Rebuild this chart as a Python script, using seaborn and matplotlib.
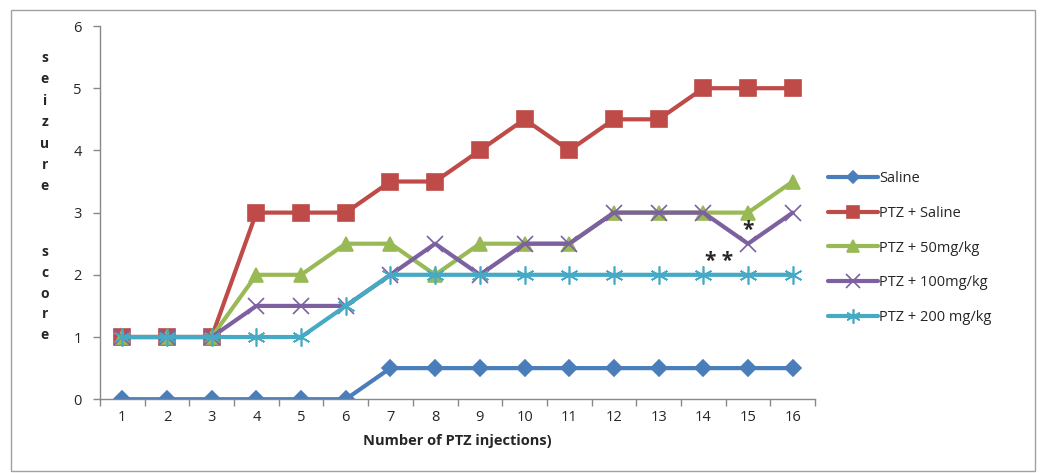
import matplotlib
matplotlib.use("Agg")
import matplotlib.pyplot as plt
import seaborn as sns
import pandas as pd
from matplotlib.patches import Rectangle

injections = list(range(1, 17))
saline = [0, 0, 0, 0, 0, 0, 0.5, 0.5, 0.5, 0.5, 0.5, 0.5, 0.5, 0.5, 0.5, 0.5]
ptz_saline = [1, 1, 1, 3, 3, 3, 3.5, 3.5, 4, 4.5, 4, 4.5, 4.5, 5, 5, 5]
ptz_50 = [1, 1, 1, 2, 2, 2.5, 2.5, 2, 2.5, 2.5, 2.5, 3, 3, 3, 3, 3.5]
ptz_100 = [1, 1, 1, 1.5, 1.5, 1.5, 2, 2.5, 2, 2.5, 2.5, 3, 3, 3, 2.5, 3]
ptz_200 = [1, 1, 1, 1, 1, 1.5, 2, 2, 2, 2, 2, 2, 2, 2, 2, 2]
series_names = ["Saline", "PTZ + Saline", "PTZ + 50mg/kg", "PTZ + 100mg/kg", "PTZ + 200 mg/kg"]

sns.set_theme(style="white")
plt.rcParams['font.family'] = ['Open Sans', 'DejaVu Sans']

rows = []
for name, vals in zip(series_names, [saline, ptz_saline, ptz_50, ptz_100, ptz_200]):
    for x, v in zip(injections, vals):
        rows.append({"inj": x, "score": v, "group": name})
df = pd.DataFrame(rows)

colors = ["#4a7ebb", "#be4b48", "#98b954", "#7d60a0", "#46aac5"]
markers = ["D", "s", "^", "x", (6, 2, 0)]
msizes = [8, 11, 10, 12, 13]

fig = plt.figure(figsize=(10.41, 4.73), dpi=100)
fig.patches.append(Rectangle((0.011, 0.004), 0.983, 0.975, transform=fig.transFigure,
                             fill=False, edgecolor="#a0a0a0", linewidth=1))
ax = fig.add_axes([0.096, 0.156, 0.687, 0.789])

for name, c, m, ms in zip(series_names, colors, markers, msizes):
    sub = df[df["group"] == name]
    sns.lineplot(data=sub, x="inj", y="score", ax=ax, color=c, linewidth=3,
                 marker=m, markersize=ms, markeredgecolor=c, markeredgewidth=1.2,
                 label=name)

ax.set_xlim(0.5, 16.5)
ax.set_ylim(0, 6)
ax.set_xticks(injections)
ax.set_xticklabels([str(i) for i in injections], fontsize=10.5)
ax.set_yticks(range(0, 7))
ax.set_yticklabels([str(i) for i in range(0, 7)], fontsize=10.5)
ax.xaxis.set_minor_locator(matplotlib.ticker.FixedLocator([i + 0.5 for i in range(0, 17)]))
ax.tick_params(axis="x", which="major", length=0, pad=8)
ax.tick_params(axis="x", which="minor", length=5, color="#888888", width=1, direction="out", bottom=True)
ax.tick_params(axis="y", which="major", length=5, color="#888888", width=1, direction="out", left=True, pad=8)
for s in ["top", "right"]:
    ax.spines[s].set_visible(False)
for s in ["left", "bottom"]:
    ax.spines[s].set_color("#888888")
    ax.spines[s].set_linewidth(1)

ax.set_xlabel("Number of PTZ injections)", fontsize=10.5, fontweight="bold", labelpad=6)
ax.set_ylabel("")
fig.text(0.043, 0.893, "\n".join("seizure"), fontsize=10, fontweight="bold",
         ha="center", va="top", linespacing=1.68)
fig.text(0.043, 0.482, "\n".join("score"), fontsize=10, fontweight="bold",
         ha="center", va="top", linespacing=1.62)

ax.text(15, 2.72, "*", fontsize=15, fontweight="bold", ha="center", va="center")
ax.text(14.35, 2.22, "* *", fontsize=15, fontweight="bold", ha="center", va="center")

ax.legend(loc="center left", bbox_to_anchor=(1.0, 0.405), frameon=False, fontsize=10.5,
          handlelength=3.4, labelspacing=1.35, handletextpad=0.1, markerscale=0.8)

fig.savefig("out.png", dpi=100)
